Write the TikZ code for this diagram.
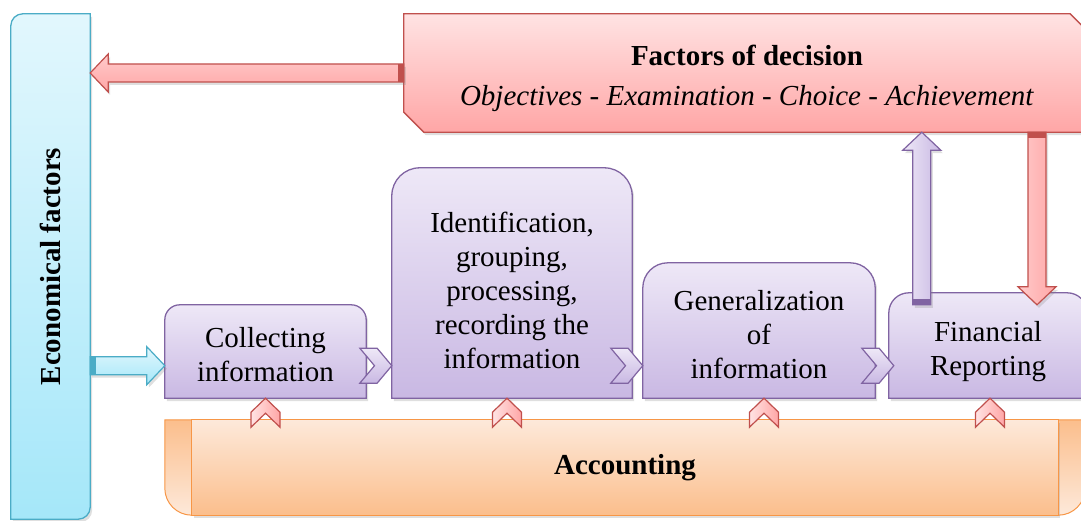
\documentclass[tikz,border=0pt]{standalone}
\usepackage{fontspec}
\setmainfont{Liberation Serif}
\usetikzlibrary{calc,shadows,shapes.symbols,backgrounds}

\definecolor{purpline}{HTML}{8064A2}
\definecolor{purptop}{HTML}{EEE8F7}
\definecolor{purpbot}{HTML}{C9B8E3}
\definecolor{redline}{HTML}{C0504D}
\definecolor{redtop}{HTML}{FFE3E3}
\definecolor{redbot}{HTML}{FFA6A6}
\definecolor{cyanline}{HTML}{4BACC6}
\definecolor{cyantop}{HTML}{E2F7FD}
\definecolor{cyanbot}{HTML}{A5E7F9}
\definecolor{orline}{HTML}{F79646}
\definecolor{ortop}{HTML}{FDE9DA}
\definecolor{orbot}{HTML}{FBBE8C}

\tikzset{
	softshadow/.style={drop shadow={opacity=0.25, shadow xshift=2pt, shadow yshift=-3pt}},
	boxnode/.style={inner sep=0pt},
	boxtext/.style={align=center, inner sep=0pt},
	boxshape/.style={draw=purpline, line width=1.3pt, top color=purptop, bottom color=purpbot, softshadow},
	chev/.style={signal, signal to=east, signal from=west, signal pointer angle=100, draw=purpline, line width=1.2pt, top color=purptop, bottom color=purpbot, inner sep=0pt, minimum width=32pt, minimum height=35pt},
	upchev/.style={signal, signal to=east, signal from=west, signal pointer angle=92, rotate=90, draw=redline, line width=1.2pt, left color=redtop, right color=redbot, inner sep=0pt, minimum width=29pt, minimum height=29pt},
	redarrow/.style={draw=redline, line width=1.2pt, top color=redtop!60!redbot, bottom color=redbot, softshadow},
	reddown/.style={draw=redline, line width=1.2pt, left color=redtop!60!redbot, right color=redbot, softshadow},
	purparrow/.style={draw=purpline, line width=1.2pt, left color=purptop, right color=purpbot, softshadow},
	cyanarrow/.style={draw=cyanline, line width=1.2pt, top color=cyantop, bottom color=cyanbot, softshadow}
}

% fat arrow: style, band colour, tail, tip
\newcommand{\fatarrow}[4]{%
	\coordinate (hb) at ($(#4)!18pt!(#3)$);
	\coordinate (tb) at ($(#3)!6pt!(#4)$);
	\path[#1] ($(#3)!9pt!90:(#4)$) -- ($(hb)!9pt!90:(#4)$) -- ($(hb)!19pt!90:(#4)$) -- (#4)
		-- ($(hb)!19pt!-90:(#4)$) -- ($(hb)!9pt!-90:(#4)$) -- ($(#3)!9pt!-90:(#4)$) -- cycle;
	\fill[#2] ($(#3)!9pt!90:(#4)$) -- ($(tb)!9pt!90:(#4)$) -- ($(tb)!9pt!-90:(#4)$) -- ($(#3)!9pt!-90:(#4)$) -- cycle;
}

% box with rounded top corners: node, radius
\newcommand{\toproundbox}[2]{%
	\path[boxshape] (#1.south west) -- ([yshift=-#2]#1.north west) arc[start angle=180, end angle=90, radius=#2]
		-- ([xshift=-#2]#1.north east) arc[start angle=90, end angle=0, radius=#2] -- (#1.south east) -- cycle;
}

\begin{document}
\begin{tikzpicture}[x=1pt, y=1pt, font=\fontsize{29}{34}\selectfont]
	\useasboundingbox (0,0) rectangle (1081,520);

	\node[boxnode, minimum width=79pt, minimum height=505pt] (eco) at (50.5,253.5) {};
	\node[boxtext] (eco-t) at (eco.center) {\rotatebox{90}{\textbf{Economical factors}}};
	\node[boxnode, minimum width=686pt, minimum height=118pt] (fac) at (747,447) {};
	\node[boxtext] (fac-t) at ([yshift=-5pt]fac.center) {\textbf{Factors of decision}\\[6pt]\textit{Objectives - Examination - Choice - Achievement}};

	\node[boxnode, minimum width=201pt, minimum height=93pt] (col) at (265.5,168.5) {};
	\node[boxnode, minimum width=240pt, minimum height=230pt] (idn) at (512,237) {};
	\node[boxnode, minimum width=232pt, minimum height=135pt] (gen) at (759,189.5) {};
	\node[boxnode, minimum width=198pt, minimum height=105pt] (fin) at (988,174.5) {};
	\node[boxtext] (col-t) at ([yshift=-3pt]col.center) {Collecting\\information};
	\node[boxtext] (idn-t) at ([yshift=-7pt]idn.center) {Identification,\\grouping,\\processing,\\recording the\\information};
	\node[boxtext] (gen-t) at ([yshift=-4pt]gen.center) {Generalization\\of\\information};
	\node[boxtext] (fin-t) at ([yshift=-6pt]fin.center) {Financial\\Reporting};

	\node[boxnode, minimum width=866pt, minimum height=95pt] (acc) at (625,52.5) {};
	\node[boxtext] (acc-t) at (acc.center) {\textbf{Accounting}};

	\begin{scope}[on background layer]
		% economical factors bar
		\path[draw=cyanline, line width=1.3pt, top color=cyantop, bottom color=cyanbot, softshadow]
			(eco.north east) -- ([yshift=12pt]eco.south east) arc[start angle=0, end angle=-90, radius=12pt]
			-- (eco.south west) -- ([yshift=-12pt]eco.north west) arc[start angle=180, end angle=90, radius=12pt] -- cycle;
		% factors of decision
		\path[draw=redline, line width=1.3pt, top color=redtop, bottom color=redbot, softshadow]
			(fac.north west) -- ([xshift=-20pt]fac.north east) -- ([yshift=-20pt]fac.north east) -- (fac.south east)
			-- ([xshift=20pt]fac.south west) -- ([yshift=20pt]fac.south west) -- cycle;
		% accounting scroll
		\path[draw=orline, line width=1pt, top color=orbot, bottom color=ortop]
			([xshift=-27pt]acc.north west) -- ([xshift=-27pt,yshift=27pt]acc.south west) arc[start angle=180, end angle=270, radius=27pt]
			-- (acc.south east) arc[start angle=270, end angle=360, radius=27pt] -- ([xshift=27pt]acc.north east) -- cycle;
		\path[draw=orline, line width=1pt, top color=ortop, bottom color=orbot, softshadow]
			(acc.south west) rectangle (acc.north east);

		\toproundbox{col}{15pt}
		\toproundbox{idn}{28pt}
		\toproundbox{gen}{25pt}
		\toproundbox{fin}{20pt}
	\end{scope}

	\node[chev] (ch1) at ([xshift=-16pt, yshift=32.5pt]idn.south west) {};
	\node[chev] (ch2) at ([xshift=-16pt, yshift=32.5pt]gen.south west) {};
	\node[chev] (ch3) at ([xshift=-11pt, yshift=32.5pt]fin.south west) {};

	\node[upchev] (up1) at ([yshift=-14.5pt]col.south) {};
	\node[upchev] (up2) at ([xshift=-5pt, yshift=-14.5pt]idn.south) {};
	\node[upchev] (up3) at ([xshift=5pt, yshift=-14.5pt]gen.south) {};
	\node[upchev] (up4) at ([xshift=2pt, yshift=-14.5pt]fin.south) {};

	\coordinate (backtip) at (eco.east |- fac.west);
	\coordinate (feedtail) at (eco.east |- ch1);
	\coordinate (feedtip) at (col.west |- ch1);
	\coordinate (reptail) at ([xshift=33pt, yshift=-12pt]fin.north west);
	\coordinate (reptip) at (reptail |- fac.south);
	\coordinate (dectip) at ([xshift=49pt, yshift=-12pt]fin.north);
	\coordinate (dectail) at (dectip |- fac.south);

	\fatarrow{redarrow}{redline}{fac.west}{backtip}
	\fatarrow{cyanarrow}{cyanline}{feedtail}{feedtip}
	\fatarrow{purparrow}{purpline}{reptail}{reptip}
	\fatarrow{reddown}{redline}{dectail}{dectip}
\end{tikzpicture}
\end{document}
